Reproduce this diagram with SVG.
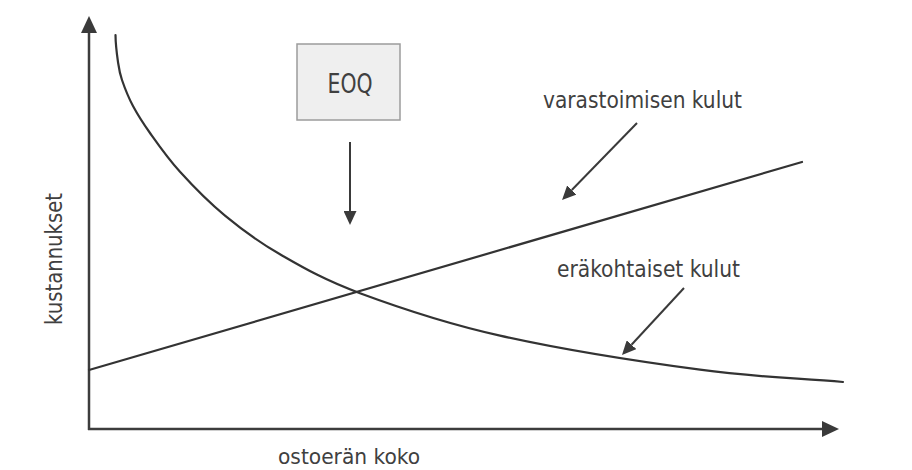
<svg xmlns="http://www.w3.org/2000/svg" width="912" height="470" viewBox="0 0 912 470">
  <defs>
    <marker id="axisHead" markerUnits="userSpaceOnUse" markerWidth="18" markerHeight="16" refX="0" refY="8" orient="auto" viewBox="0 0 18 16">
      <path d="M0,0 L17,8 L0,16 z" fill="#3a3a3a"/>
    </marker>
    <marker id="smallHead" markerUnits="userSpaceOnUse" markerWidth="15" markerHeight="13" refX="0" refY="6.5" orient="auto" viewBox="0 0 15 13">
      <path d="M0,0 L14,6.5 L0,13 z" fill="#3a3a3a"/>
    </marker>
  </defs>
  <style>
    .axis { stroke: #3d3d3d; stroke-width: 2.5; fill: none; }
    .curve { stroke: #333333; stroke-width: 2.2; fill: none; stroke-linejoin: round; stroke-linecap: round; }
    .pointer { stroke: #3a3a3a; stroke-width: 2; fill: none; }
    .lbl { font-family: "Liberation Sans Narrow", "DejaVu Sans Condensed", "Liberation Sans", sans-serif; fill: #404040; }
    .box { fill: #efefef; stroke: #9c9c9c; stroke-width: 1.5; }
  </style>
  <rect width="912" height="470" fill="#ffffff"/>

  <g id="connectors">
    <line class="axis" x1="89" y1="430" x2="89" y2="33" marker-end="url(#axisHead)"/>
    <line class="axis" x1="88" y1="429" x2="822" y2="429" marker-end="url(#axisHead)"/>
    <line class="pointer" x1="350" y1="142" x2="350" y2="211" marker-end="url(#smallHead)"/>
    <line class="pointer" x1="637" y1="123" x2="571.8" y2="190" marker-end="url(#smallHead)"/>
    <line class="pointer" x1="684" y1="288" x2="631.5" y2="344.7" marker-end="url(#smallHead)"/>
  </g>

  <g id="holding-cost-line">
    <line class="curve" x1="89" y1="370" x2="802" y2="162"/>
  </g>

  <g id="ordering-cost-curve">
    <path class="curve" d="M115.5,35 C115.6,44 116.9,54.5 118,62 C119.1,69.5 119.5,72.7 122,80 C124.5,87.3 128.3,97.2 133,106 C137.7,114.8 142.2,122 150,133 C157.8,144 167.5,158 180,171.8 C192.5,185.6 208.3,201.9 225,215.6 C241.7,229.4 257.5,241.4 280,254.3 C302.5,267.2 323.3,279.6 360,293.2 C396.7,306.8 443.3,322.9 500,335.6 C556.7,348.4 642.8,362 700,369.7 C757.2,377.4 795.3,377.9 843,382"/>
  </g>

  <g id="eoq">
    <rect class="box" x="297" y="44" width="103" height="76"/>
    <text class="lbl" x="350" y="93" font-size="26" text-anchor="middle" textLength="45" lengthAdjust="spacingAndGlyphs">EOQ</text>
  </g>

  <g id="label-holding">
    <text class="lbl" x="543" y="108" font-size="23" textLength="199" lengthAdjust="spacingAndGlyphs">varastoimisen kulut</text>
  </g>

  <g id="label-ordering">
    <text class="lbl" x="557" y="277" font-size="23" textLength="183" lengthAdjust="spacingAndGlyphs">eräkohtaiset kulut</text>
  </g>

  <g id="label-x">
    <text class="lbl" x="278" y="464" font-size="22" textLength="142" lengthAdjust="spacingAndGlyphs">ostoerän koko</text>
  </g>

  <g id="label-y">
    <text class="lbl" x="0" y="0" font-size="23" text-anchor="middle" textLength="132" lengthAdjust="spacingAndGlyphs" transform="translate(62,259) rotate(-90)">kustannukset</text>
  </g>
</svg>
